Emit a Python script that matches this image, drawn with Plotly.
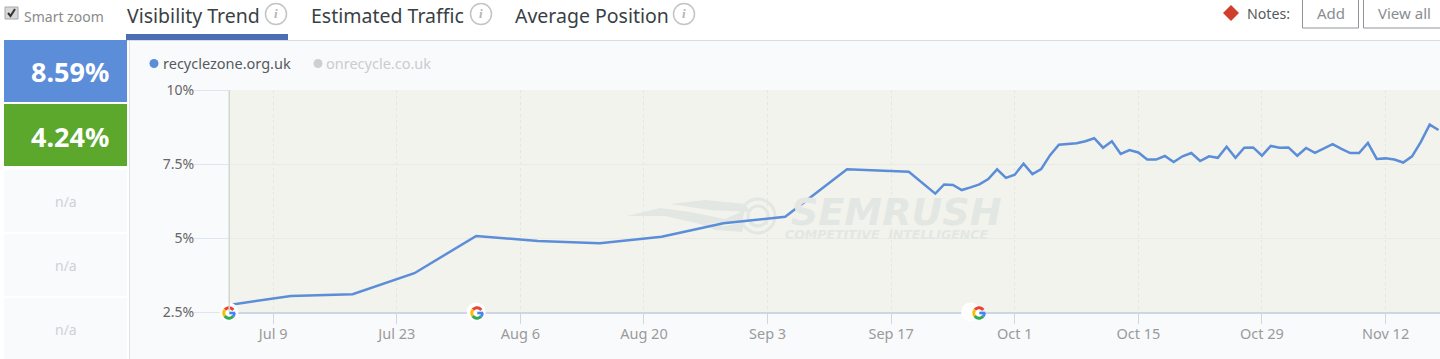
import math
from datetime import date, timedelta
import plotly.graph_objects as go

W, H = 1440, 359
FONT = "Noto Sans"

weekly_dates = ["2018-07-04", "2018-07-11", "2018-07-18", "2018-07-25", "2018-08-01", "2018-08-08",
                "2018-08-15", "2018-08-22", "2018-08-29", "2018-09-05", "2018-09-12", "2018-09-19"]
weekly_values = [2.74, 3.04, 3.10, 3.81, 5.07, 4.90, 4.82, 5.04, 5.50, 5.72, 7.32, 7.24]
daily_start = "2018-09-22"
daily_values = [6.50, 6.81, 6.79, 6.62, 6.71, 6.81, 6.99, 7.32, 7.03, 7.14,
                7.51, 7.16, 7.33, 7.80, 8.15, 8.18, 8.20, 8.27, 8.37, 8.05,
                8.27, 7.84, 7.97, 7.89, 7.65, 7.65, 7.77, 7.57, 7.76, 7.87,
                7.60, 7.76, 7.71, 8.08, 7.71, 8.05, 8.06, 7.78, 8.11, 8.05,
                8.06, 7.78, 8.04, 7.88, 8.03, 8.17, 8.01, 7.87, 7.87, 8.21,
                7.67, 7.69, 7.65, 7.55, 7.76, 8.25, 8.83, 8.65]
x_tick_dates = ["2018-07-09", "2018-07-23", "2018-08-06", "2018-08-20", "2018-09-03", "2018-09-17",
                "2018-10-01", "2018-10-15", "2018-10-29", "2018-11-12"]
x_tick_labels = ["Jul 9", "Jul 23", "Aug 6", "Aug 20", "Sep 3", "Sep 17", "Oct 1", "Oct 15", "Oct 29", "Nov 12"]
y_tick_vals = [2.5, 5, 7.5, 10]
y_tick_labels = ["2.5%", "5%", "7.5%", "10%"]
update_dates = ["2018-07-04", "2018-08-01", "2018-09-26"]
tabs = ["Visibility Trend", "Estimated Traffic", "Average Position"]
kpi_values = ["8.59%", "4.24%"]
series_names = ["recyclezone.org.uk", "onrecycle.co.uk"]

d0 = date.fromisoformat(daily_start)
xs = weekly_dates + [(d0 + timedelta(days=i)).isoformat() for i in range(len(daily_values))]
ys = weekly_values + daily_values


def px(x):
    return x / W


def py(y):
    return 1 - y / H


def rect(x0, y0, x1, y1, fill, line=None, lw=1, layer="below"):
    return dict(type="rect", xref="paper", yref="paper", x0=px(x0), x1=px(x1), y0=py(y0), y1=py(y1),
                fillcolor=fill, line=dict(color=line or "rgba(0,0,0,0)", width=lw if line else 0), layer=layer)


def path(points, fill=None, line=None, lw=1, close=True, layer="above"):
    s = "M " + " L ".join(f"{px(a):.5f},{py(b):.5f}" for a, b in points) + (" Z" if close else "")
    return dict(type="path", xref="paper", yref="paper", path=s, fillcolor=fill or "rgba(0,0,0,0)",
                line=dict(color=line or "rgba(0,0,0,0)", width=lw if line else 0), layer=layer)


def circle(cx, cy, r, fill=None, line=None, lw=1, layer="above"):
    return dict(type="circle", xref="paper", yref="paper", x0=px(cx - r), x1=px(cx + r), y0=py(cy + r), y1=py(cy - r),
                fillcolor=fill or "rgba(0,0,0,0)", line=dict(color=line or "rgba(0,0,0,0)", width=lw if line else 0),
                layer=layer)


def arc(cx, cy, r, a0, a1, color, lw=3):
    n = 10
    pts = [(cx + r * math.cos(math.radians(a0 + (a1 - a0) * i / n)),
            cy - r * math.sin(math.radians(a0 + (a1 - a0) * i / n))) for i in range(n + 1)]
    return path(pts, line=color, lw=lw, close=False)


def text(s, x, y, size, color, anchor="left", weight=None, style=None, family=FONT):
    return dict(text=s, xref="paper", yref="paper", x=px(x), y=py(y), xanchor=anchor, yanchor="middle",
                showarrow=False, borderpad=0, borderwidth=0,
                font=dict(size=size, color=color, family=family, weight=weight, style=style))


shapes, notes = [], []

# header and left column
shapes.append(rect(0, 0, W, 40, "#ffffff"))
shapes.append(rect(0, 40, 129, H, "#ffffff"))
shapes.append(rect(127, 40, W, 41, "#dcdcdc"))
shapes.append(rect(129, 41, 130, H, "#dfe2e6"))
shapes.append(rect(126, 34, 288, 40, "#4a6db3"))

# checkbox
shapes.append(rect(5, 7, 18, 19, "#d8d8d8", "#a8a8a8"))
shapes.append(path([(8, 13), (10.5, 16), (15, 9)], line="#333333", lw=2, close=False))
notes.append(text("Smart zoom", 24, 17, 14, "#8a8a8a"))

# tabs
for label, x, ix in zip(tabs, [127, 311, 515], [276, 481, 684]):
    notes.append(text(label, x, 15, 19.5, "#3a3f45"))
    shapes.append(circle(ix, 14, 10.5, fill="#ffffff", line="#c4c4c4", lw=1.5))
    notes.append(text("i", ix, 14, 13, "#b5b5b5", anchor="center", style="italic", weight=700, family="Liberation Serif"))

# notes controls
shapes.append(path([(1231, 5), (1239, 13), (1231, 21), (1223, 13)], fill="#cf3f2c"))
notes.append(text("Notes:", 1247, 13, 14.2, "#555a60"))
shapes.append(rect(1302.5, -3, 1358.5, 28, "#ffffff", "#8f9499", layer="above"))
notes.append(text("Add", 1330.5, 13, 15, "#888d92", anchor="center"))
shapes.append(rect(1363.5, -3, 1445, 28, "#ffffff", "#8f9499", layer="above"))
notes.append(text("View all", 1404.5, 13, 15, "#888d92", anchor="center"))

# KPI column
shapes.append(rect(4, 40, 127, 102, "#5b8dd9", layer="above"))
shapes.append(rect(4, 104, 127, 166, "#5ca82c", layer="above"))
notes.append(text(kpi_values[0], 70, 72, 27, "#ffffff", anchor="center", weight=700))
notes.append(text(kpi_values[1], 70, 136, 27, "#ffffff", anchor="center", weight=700))
for top, mid in [(170, 201), (234, 265), (298, 329)]:
    shapes.append(rect(4, top, 127, min(top + 62, H), "#f9fafc"))
    notes.append(text("n/a", 65.5, mid, 14, "#cfd1d3", anchor="center"))

# legend
shapes.append(circle(154, 63.5, 4.5, fill="#5b8dd9"))
notes.append(text(series_names[0], 163, 63, 14.5, "#555a60"))
shapes.append(circle(318, 63.5, 4.5, fill="#cfcfcf"))
notes.append(text(series_names[1], 326, 63, 14.5, "#cccccc"))

# watermark
WM = "#e3e7e4"
shapes.append(path([(627, 216), (660, 208), (690, 212), (725, 219), (745, 210), (742, 222), (700, 224), (665, 216)],
                   fill=WM, layer="below"))
shapes.append(path([(670, 204), (705, 200), (745, 204), (750, 212), (710, 210)], fill=WM, layer="below"))
shapes.append(path([(695, 222), (725, 226), (745, 222), (742, 232), (715, 230)], fill=WM, layer="below"))
shapes.append(circle(758, 216, 17, line=WM, lw=3, layer="below"))
shapes.append(circle(758, 216, 10, line=WM, lw=3, layer="below"))
notes.append(text("SEMRUSH", 791, 212, 38, WM, style="italic", weight=700, family="DejaVu Sans"))
notes.append(text("COMPETITIVE  INTELLIGENCE", 785, 234, 12.5, WM, style="italic", weight=700, family="DejaVu Sans"))

# Google marks on the update dates
g_r = 5.2
for cx in [229, 477, 979]:
    cy = 313
    shapes.append(arc(cx, cy, g_r, 35, 140, "#ea4335"))
    shapes.append(arc(cx, cy, g_r, 140, 215, "#fbbc05"))
    shapes.append(arc(cx, cy, g_r, 215, 320, "#34a853"))
    shapes.append(arc(cx, cy, g_r, 320, 360, "#4285f4"))
    shapes.append(path([(cx + 0.3, cy), (cx + g_r + 1, cy)], line="#4285f4", lw=2.6, close=False))

# left axis edge of the plot
shapes.append(rect(228.5, 90, 230, 312, "#d3d5d0", layer="above"))

fig = go.Figure()
fig.add_trace(go.Scatter(x=xs, y=ys, mode="lines", name=series_names[0], hoverinfo="skip",
                         line=dict(color="#5b8dd9", width=2.5), cliponaxis=True))
fig.add_trace(go.Scatter(x=update_dates, y=[2.5] * len(update_dates), mode="markers", hoverinfo="skip",
                         marker=dict(color="#ffffff", size=19), cliponaxis=False, name="Google update"))

fig.update_layout(
    width=W, height=H, margin=dict(l=0, r=0, t=0, b=0, pad=0), autosize=False, showlegend=False,
    paper_bgcolor="#f9fafc", plot_bgcolor="#f2f3ec",
    font=dict(family=FONT),
    shapes=shapes, annotations=notes,
    xaxis=dict(domain=[px(229), 1], type="date", range=["2018-07-04 00:00", "2018-11-18 04:00"],
               automargin=False, layer="below traces",
               tickmode="array", tickvals=x_tick_dates, ticktext=x_tick_labels,
               ticks="outside", ticklen=10, tickcolor="#cfd6e2", tickwidth=1, ticklabelstandoff=-2,
               tickfont=dict(size=14.5, color="#9a9a9a"),
               showgrid=True, gridcolor="#e4e6e0", griddash="dot", gridwidth=1,
               showline=True, linecolor="#cdd6e6", linewidth=1.5, zeroline=False, fixedrange=True),
    yaxis=dict(domain=[py(312), py(90)], range=[2.5, 10], automargin=False, layer="below traces",
               tickmode="array", tickvals=y_tick_vals, ticktext=y_tick_labels,
               ticks="outside", ticklen=34, tickcolor="#dfe5ee", tickwidth=1, ticklabelstandoff=-3,
               tickfont=dict(size=14, color="#666666"),
               showgrid=True, gridcolor="#e9ebe4", gridwidth=1,
               showline=False, zeroline=False, fixedrange=True),
)

fig.write_html("out.html", config=dict(displayModeBar=False),
               post_script="document.body.style.margin='0';document.body.style.overflow='hidden';")
